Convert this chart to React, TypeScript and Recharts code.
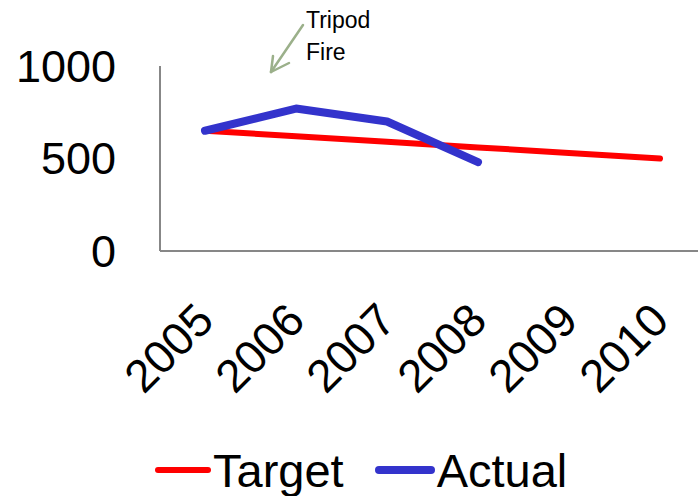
import { LineChart, Line, XAxis, YAxis, Legend } from 'recharts'

const years = ['2005', '2006', '2007', '2008', '2009', '2010']
const target = [650, 620, 590, 560, 530, 500]
const actual = [650, 770, 700, 480, null, null]
const yTicks = [0, 500, 1000]

const data = years.map((year, i) => ({ year, target: target[i], actual: actual[i] }))

const FONT = '"Liberation Sans", Arial, sans-serif'
const RED = '#ff0000'
const BLUE = '#3333cc'
const AXIS = '#878787'
const NOTE = '#9bb08a'

const W = 698
const H = 496

// rotated year labels, anchored at their right end just below the tick
function YearTick({ x, y, payload }: { x?: number; y?: number; payload?: { value: string } }) {
  const tx = (x ?? 0) + 11
  const ty = (y ?? 0) + 72
  return (
    <text
      x={tx}
      y={ty}
      transform={`rotate(-45, ${tx}, ${ty})`}
      textAnchor="end"
      fontSize={46}
      fontFamily={FONT}
      fill="#000"
    >
      {payload?.value}
    </text>
  )
}

function LegendContent() {
  const items = [
    { label: 'Target', color: RED, width: 6, lineW: 56, gap: 0 },
    { label: 'Actual', color: BLUE, width: 8, lineW: 60, gap: 31 },
  ]
  return (
    <div
      style={{
        height: 60,
        boxSizing: 'border-box',
        paddingTop: 8,
        paddingLeft: 155,
        display: 'flex',
        alignItems: 'center',
        fontFamily: FONT,
      }}
    >
      {items.map((it) => (
        <div key={it.label} style={{ display: 'flex', alignItems: 'center', marginLeft: it.gap }}>
          <svg width={it.lineW} height={12} style={{ display: 'block' }}>
            <line
              x1={it.width / 2}
              y1={6}
              x2={it.lineW - it.width / 2}
              y2={6}
              stroke={it.color}
              strokeWidth={it.width}
              strokeLinecap="round"
            />
          </svg>
          <span style={{ fontSize: 47, lineHeight: 1, color: '#000', marginLeft: 2 }}>{it.label}</span>
        </div>
      ))}
    </div>
  )
}

function FireNote() {
  // open arrow pointing down-left at the 2006 peak
  const tip = { x: 271, y: 72 }
  return (
    <svg
      width={W}
      height={H}
      style={{ position: 'absolute', left: 0, top: 0, pointerEvents: 'none' }}
    >
      <g stroke={NOTE} strokeWidth={2.5} strokeLinecap="round" fill="none">
        <line x1={303} y1={25} x2={tip.x} y2={tip.y} />
        <line x1={tip.x} y1={tip.y} x2={273} y2={56} />
        <line x1={tip.x} y1={tip.y} x2={289} y2={63} />
      </g>
      <text x={306} y={28} fontSize={23} fontFamily={FONT} fill="#000">
        Tripod
      </text>
      <text x={306} y={60} fontSize={23} fontFamily={FONT} fill="#000">
        Fire
      </text>
    </svg>
  )
}

export default function App() {
  return (
    <div style={{ position: 'absolute', left: 0, top: 0, width: W, height: H, background: '#fff' }}>
      <LineChart width={W} height={H} data={data} margin={{ top: 66, right: 0, bottom: 0, left: 0 }}>
        <XAxis
          dataKey="year"
          height={185}
          padding={{ left: 45, right: 38 }}
          axisLine={{ stroke: AXIS, strokeWidth: 2 }}
          tickLine={false}
          tickSize={0}
          tickMargin={0}
          interval={0}
          tick={<YearTick />}
        />
        <YAxis
          width={160}
          domain={[0, 1000]}
          ticks={yTicks}
          axisLine={{ stroke: AXIS, strokeWidth: 2 }}
          tickLine={false}
          tickSize={0}
          tickMargin={44}
          tick={{ fontSize: 45, fill: '#000', fontFamily: FONT }}
        />
        <Legend verticalAlign="bottom" content={<LegendContent />} />
        <Line
          dataKey="target"
          stroke={RED}
          strokeWidth={6}
          strokeLinecap="round"
          dot={false}
          isAnimationActive={false}
        />
        <Line
          dataKey="actual"
          stroke={BLUE}
          strokeWidth={8}
          strokeLinecap="round"
          strokeLinejoin="round"
          dot={false}
          isAnimationActive={false}
        />
      </LineChart>
      <FireNote />
    </div>
  )
}
